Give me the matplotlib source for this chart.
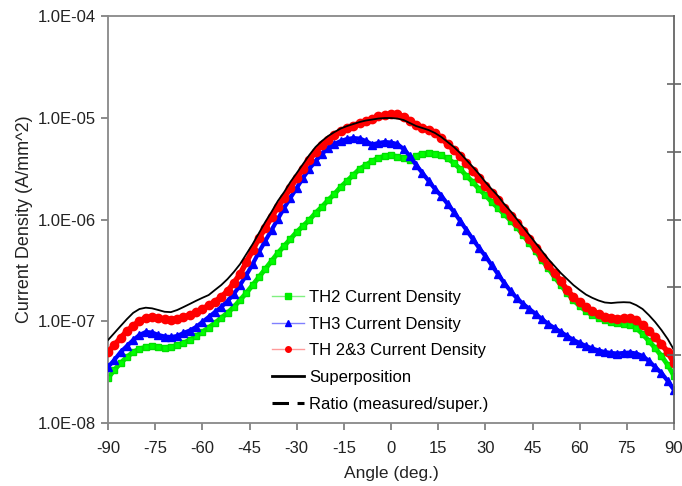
import numpy as np
import matplotlib
matplotlib.use('Agg')
import matplotlib.pyplot as plt
from matplotlib.lines import Line2D

plt.rcParams['font.family'] = ['Liberation Sans', 'DejaVu Sans']
plt.rcParams['axes.unicode_minus'] = False

# angle grid, 2 deg steps from -90 to 90
angle = np.arange(-90, 91, 2)

th2 = [2.77e-8, 3.32e-8, 3.89e-8, 4.45e-8, 4.98e-8, 5.34e-8, 5.58e-8, 5.65e-8, 5.58e-8, 5.52e-8,
       5.58e-8, 5.78e-8, 6.11e-8, 6.54e-8, 7.16e-8, 7.84e-8, 8.68e-8, 9.61e-8, 1.08e-7, 1.21e-7,
       1.38e-7, 1.62e-7, 1.90e-7, 2.27e-7, 2.72e-7, 3.26e-7, 3.91e-7, 4.69e-7, 5.49e-7, 6.43e-7,
       7.54e-7, 8.63e-7, 9.89e-7, 1.16e-6, 1.33e-6, 1.55e-6, 1.78e-6, 2.09e-6, 2.39e-6, 2.74e-6,
       3.14e-6, 3.43e-6, 3.76e-6, 4.02e-6, 4.21e-6, 4.26e-6, 4.16e-6, 3.98e-6, 3.84e-6, 4.21e-6,
       4.45e-6, 4.50e-6, 4.45e-6, 4.26e-6, 3.98e-6, 3.59e-6, 3.14e-6, 2.68e-6, 2.34e-6, 1.99e-6,
       1.74e-6, 1.49e-6, 1.30e-6, 1.13e-6, 9.78e-7, 8.44e-7, 7.04e-7, 5.87e-7, 4.90e-7, 4.00e-7,
       3.34e-7, 2.72e-7, 2.27e-7, 1.90e-7, 1.62e-7, 1.41e-7, 1.26e-7, 1.15e-7, 1.08e-7, 1.02e-7,
       9.83e-8, 9.61e-8, 9.40e-8, 9.19e-8, 8.58e-8, 7.49e-8, 6.40e-8, 5.46e-8, 4.56e-8, 3.72e-8,
       2.90e-8]

th3 = [3.55e-8, 4.16e-8, 4.98e-8, 5.71e-8, 6.54e-8, 7.33e-8, 7.84e-8, 7.75e-8, 7.33e-8, 7.08e-8,
       7.00e-8, 7.16e-8, 7.66e-8, 8.11e-8, 8.78e-8, 9.83e-8, 1.10e-7, 1.23e-7, 1.38e-7, 1.58e-7,
       1.85e-7, 2.27e-7, 2.85e-7, 3.65e-7, 4.79e-7, 6.15e-7, 7.88e-7, 1.01e-6, 1.30e-6, 1.63e-6,
       2.04e-6, 2.56e-6, 3.14e-6, 3.76e-6, 4.40e-6, 5.04e-6, 5.52e-6, 5.91e-6, 6.18e-6, 6.32e-6,
       6.25e-6, 5.91e-6, 5.46e-6, 5.65e-6, 5.78e-6, 5.71e-6, 5.52e-6, 4.93e-6, 4.21e-6, 3.43e-6,
       2.86e-6, 2.39e-6, 1.99e-6, 1.71e-6, 1.42e-6, 1.19e-6, 9.67e-7, 7.88e-7, 6.43e-7, 5.25e-7,
       4.38e-7, 3.57e-7, 2.91e-7, 2.38e-7, 1.98e-7, 1.69e-7, 1.48e-7, 1.32e-7, 1.18e-7, 1.05e-7,
       9.40e-8, 8.58e-8, 7.84e-8, 7.16e-8, 6.54e-8, 6.11e-8, 5.71e-8, 5.40e-8, 5.16e-8, 4.98e-8,
       4.88e-8, 4.82e-8, 4.88e-8, 4.93e-8, 4.82e-8, 4.56e-8, 4.07e-8, 3.55e-8, 3.10e-8, 2.59e-8,
       2.11e-8]

th23 = [4.98e-8, 5.84e-8, 6.84e-8, 8.02e-8, 8.98e-8, 1.01e-7, 1.08e-7, 1.09e-7, 1.08e-7, 1.05e-7,
        1.04e-7, 1.06e-7, 1.10e-7, 1.15e-7, 1.23e-7, 1.32e-7, 1.43e-7, 1.56e-7, 1.73e-7, 1.98e-7,
        2.38e-7, 2.91e-7, 3.82e-7, 5.01e-7, 6.58e-7, 8.25e-7, 1.06e-6, 1.33e-6, 1.63e-6, 2.04e-6,
        2.56e-6, 3.14e-6, 3.84e-6, 4.61e-6, 5.40e-6, 6.04e-6, 6.77e-6, 7.41e-6, 7.93e-6, 8.39e-6,
        8.88e-6, 9.29e-6, 9.83e-6, 1.03e-5, 1.06e-5, 1.08e-5, 1.08e-5, 1.02e-5, 9.29e-6, 8.58e-6,
        8.02e-6, 7.57e-6, 7.16e-6, 6.32e-6, 5.52e-6, 4.82e-6, 4.21e-6, 3.59e-6, 3.03e-6, 2.56e-6,
        2.13e-6, 1.82e-6, 1.55e-6, 1.30e-6, 1.09e-6, 9.24e-7, 7.71e-7, 6.43e-7, 5.25e-7, 4.28e-7,
        3.57e-7, 2.98e-7, 2.49e-7, 2.03e-7, 1.73e-7, 1.53e-7, 1.38e-7, 1.26e-7, 1.18e-7, 1.11e-7,
        1.08e-7, 1.06e-7, 1.08e-7, 1.08e-7, 1.03e-7, 9.19e-8, 8.02e-8, 7.00e-8, 5.98e-8, 4.98e-8,
        3.89e-8]

superpos = [6.54e-8, 7.66e-8, 8.98e-8, 1.05e-7, 1.21e-7, 1.32e-7, 1.36e-7, 1.34e-7, 1.29e-7, 1.24e-7,
            1.23e-7, 1.29e-7, 1.38e-7, 1.48e-7, 1.59e-7, 1.70e-7, 1.81e-7, 2.03e-7, 2.27e-7, 2.60e-7,
            3.05e-7, 3.65e-7, 4.58e-7, 5.74e-7, 7.37e-7, 9.45e-7, 1.19e-6, 1.52e-6, 1.86e-6, 2.34e-6,
            2.86e-6, 3.51e-6, 4.30e-6, 5.16e-6, 5.91e-6, 6.62e-6, 7.24e-6, 7.84e-6, 8.29e-6, 8.68e-6,
            9.08e-6, 9.40e-6, 9.61e-6, 9.83e-6, 9.94e-6, 9.94e-6, 9.83e-6, 9.50e-6, 8.88e-6, 8.29e-6,
            7.93e-6, 7.57e-6, 7.08e-6, 6.47e-6, 5.78e-6, 5.16e-6, 4.50e-6, 3.84e-6, 3.29e-6, 2.80e-6,
            2.34e-6, 1.99e-6, 1.71e-6, 1.42e-6, 1.21e-6, 1.01e-6, 8.44e-7, 7.04e-7, 5.87e-7, 4.90e-7,
            4.09e-7, 3.49e-7, 2.98e-7, 2.60e-7, 2.27e-7, 2.03e-7, 1.83e-7, 1.70e-7, 1.60e-7, 1.53e-7,
            1.51e-7, 1.53e-7, 1.54e-7, 1.53e-7, 1.44e-7, 1.32e-7, 1.15e-7, 9.83e-8, 8.20e-8, 6.69e-8,
            5.22e-8]

xticks = [-90, -75, -60, -45, -30, -15, 0, 15, 30, 45, 60, 75, 90]
yticks = [1e-8, 1e-7, 1e-6, 1e-5, 1e-4]
ytick_labels = ['1.0E-08', '1.0E-07', '1.0E-06', '1.0E-05', '1.0E-04']

fig = plt.figure(figsize=(6.82, 4.86), dpi=100)
ax = fig.add_axes([0.1584, 0.1296, 0.8299, 0.8374])

# thick joining line plus markers gives the dense banded look
ax.plot(angle, th2, '-s', color='#00ee00', mfc='#00ff00', mec='#00e000', ms=5, lw=3.5, zorder=2)
ax.plot(angle, th3, '-^', color='#0000ff', ms=5.5, lw=3, zorder=3)
ax.plot(angle, th23, '-o', color='#ff0000', ms=6, lw=4, zorder=4)
ax.plot(angle, superpos, '-', color='black', lw=1.3, zorder=5)

ax.set_yscale('log')
ax.set_xlim(-90, 90)
ax.set_ylim(1e-8, 1e-4)
ax.set_xticks(xticks)
ax.set_yticks(yticks, labels=ytick_labels)
ax.minorticks_off()
ax.tick_params(axis='both', colors='#777777', labelcolor='#222222', labelsize=12,
               length=5, width=1.2, direction='out')
ax.tick_params(axis='x', pad=8)
ax.set_xlabel('Angle (deg.)', fontsize=12.5, color='#222222', labelpad=7)
ax.set_ylabel('Current Density (A/mm^2)', fontsize=13, color='#222222', labelpad=4)

for side in ['left', 'bottom', 'top']:
    ax.spines[side].set_color('#888888')
    ax.spines[side].set_linewidth(1.3)
ax.spines['right'].set_visible(False)

# secondary axis for the ratio, unlabeled ticks crossing the frame
ax2 = ax.twinx()
ax2.set_ylim(0, 6)
ax2.set_yticks([1, 2, 3, 4, 5], labels=[])
ax2.tick_params(axis='y', direction='inout', length=10, width=1.2, colors='#666666')
ax2.spines['right'].set_color('#666666')
ax2.spines['right'].set_linewidth(1.3)
for side in ['left', 'bottom', 'top']:
    ax2.spines[side].set_visible(False)

handles = [
    Line2D([], [], color='#80f080', lw=1, marker='s', ms=4, mfc='#00ee00', mec='#00ee00'),
    Line2D([], [], color='#8080ff', lw=1, marker='^', ms=4, mfc='#0000ff', mec='#0000ff'),
    Line2D([], [], color='#ff9a9a', lw=1, marker='o', ms=4, mfc='#ff0000', mec='#ff0000'),
    Line2D([], [], color='black', lw=2),
    Line2D([], [], color='black', lw=2.2, ls=(0, (5.4, 2.8))),
]
labels = ['TH2 Current Density', 'TH3 Current Density', 'TH 2&3 Current Density',
          'Superposition', 'Ratio (measured/super.)']
ax.legend(handles, labels, loc='upper left', bbox_to_anchor=(0.29, 0.327), frameon=False,
          fontsize=12, borderpad=0, borderaxespad=0, handlelength=1.9, handletextpad=0.3,
          labelspacing=0.7)

fig.savefig('out.png', dpi=100)
